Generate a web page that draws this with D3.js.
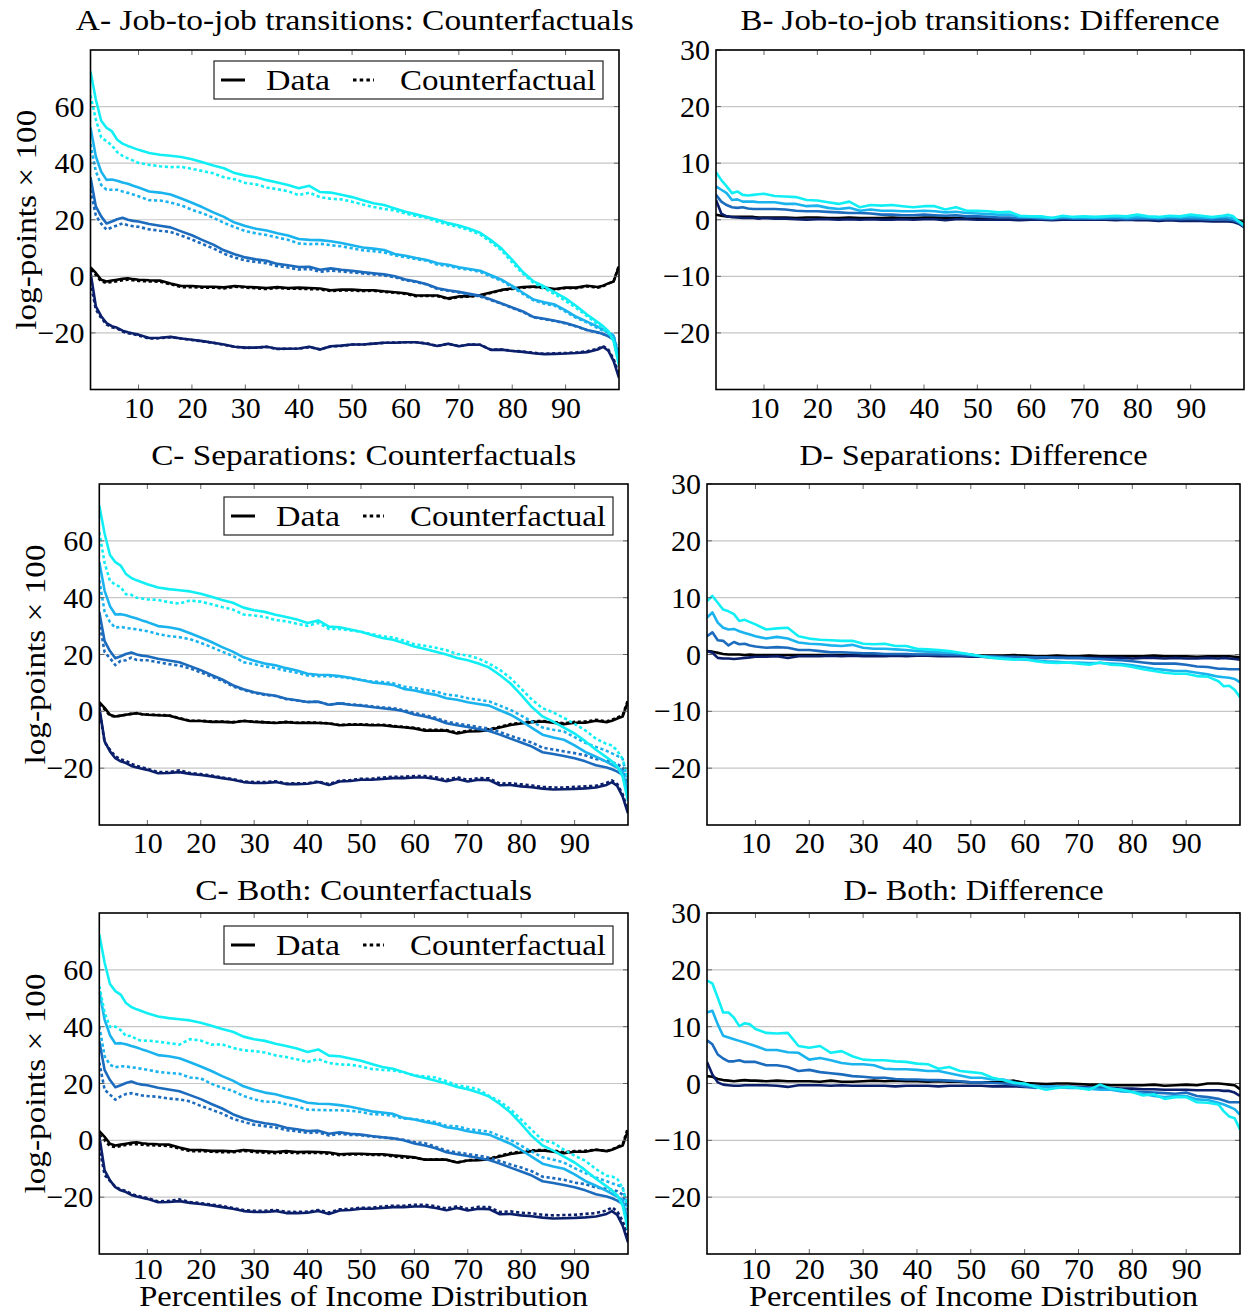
<!DOCTYPE html>
<html><head><meta charset="utf-8">
<script src="https://cdn.jsdelivr.net/npm/d3@7"></script>
<style>
body{margin:0;background:#fff}
svg{display:block}
text{font-family:"Liberation Serif","Times New Roman",serif;fill:#000}
</style>
</head><body>
<svg id="chart" width="1245" height="1312"></svg>
<script>
// ---------- data ----------
const percentiles = [1,2,3,4,5,6,7,8,9,10,12,14,16,18,20,22,24,26,28,30,32,34,36,38,40,42,44,46,48,50,52,54,56,58,60,62,64,66,68,70,72,74,76,78,80,82,84,86,88,90,92,94,96,97,98,99,100];
const xTickValues = [10,20,30,40,50,60,70,80,90];
const cfTickValues = [-20,0,20,40,60];
const diffTickValues = [-20,-10,0,10,20,30];
const seriesNames = ["black","navy","mid","light","cyan"];
const seriesColors = ["#000000","#0b1f6b","#1c6bbd","#1bb3ee","#12eff4"];
const legendLabels = ["Data","Counterfactual"];
const panelTitles = ["A- Job-to-job transitions: Counterfactuals","B- Job-to-job transitions: Difference",
  "C- Separations: Counterfactuals","D- Separations: Difference","C- Both: Counterfactuals","D- Both: Difference"];
const yAxisLabel = "log-points \u00d7 100";
const xAxisLabel = "Percentiles of Income Distribution";

// Data (solid) — same in all counterfactual panels
const dataBlack = [3.2,1.2,-1.2,-1.8,-1.5,-1.2,-0.9,-0.7,-1,-1.2,-1.4,-1.5,-2.5,-3.4,-3.4,-3.7,-3.7,-3.9,-3.4,-3.7,-3.9,-4.1,-3.8,-4.1,-4,-4.1,-4.3,-4.9,-4.7,-4.7,-4.9,-4.9,-5.3,-5.6,-6,-6.8,-6.8,-6.8,-7.8,-7.1,-7,-6.6,-5.7,-4.8,-4.3,-3.8,-3.6,-4,-4.5,-4,-4,-3.3,-3.8,-3.3,-2.5,-1.8,3.5];
const dataNavy = [1.5,-10.6,-14.1,-16.5,-17.6,-18.2,-19.2,-19.8,-20.2,-20.6,-21.8,-21.7,-21.4,-22,-22.4,-22.9,-23.5,-24.1,-24.9,-25.2,-25.2,-24.9,-25.6,-25.6,-25.5,-24.9,-25.9,-24.7,-24.5,-24.1,-24.1,-23.8,-23.5,-23.5,-23.3,-23.3,-23.8,-24.6,-23.8,-24.7,-24.1,-24.2,-26,-25.9,-26.4,-26.7,-27.2,-27.5,-27.4,-27.3,-27.1,-26.8,-25.9,-24.9,-26.3,-30,-35.9];
const dataMid = [35,24.7,21.2,18.7,19.4,20.2,20.7,20,19.6,19.4,18.5,17.9,17.3,15.9,14.5,12.8,11.2,9.2,7.8,6.7,6,5.5,4.4,3.9,3.3,3.4,2.3,2.8,2.3,2,1.5,1.1,0.7,0,-1.1,-1.8,-2.8,-4.2,-4.9,-5.5,-6.2,-6.9,-8.2,-9.6,-11,-12.4,-14.4,-15,-15.7,-16.5,-17.6,-19,-19.8,-20.4,-21.2,-22.4,-28];
const dataLight = [52.6,42.4,37,34.1,34.2,33.8,33.2,32.7,32,31.4,30,29.6,28.9,27.5,26,24.4,22.6,21,19,17.8,16.8,16.2,15.2,14.4,13.2,12.9,12.8,12.4,11.8,11,10.2,9.8,9.3,7.9,7.3,6.5,5.8,4.6,4.1,3.2,2.6,2,0.4,-1.2,-3.4,-5.8,-8.2,-9.2,-10,-12,-14.3,-16,-17.8,-18.8,-19.8,-21,-30];
const dataCyan = [72.4,62.5,55,52.5,51.3,48.3,46.9,46.1,45.4,44.7,43.6,43,42.6,42.2,41.4,40.3,39.2,38.2,36.5,35.6,35,34,33.2,32.3,31.1,32,29.8,29.6,28.8,28,26.9,25.8,25.2,24,22.8,21.9,21,20,18.8,18,16.8,15.4,12.8,9.8,5.8,1.5,-1.8,-3.6,-5.7,-7.8,-10.5,-13.5,-16.2,-17.6,-19.4,-23,-31.5];

// Job-to-job: counterfactuals (dotted)
const cfJobBlack = [2.3,0.5,-1.8,-2.3,-2,-1.7,-1.4,-1.2,-1.4,-1.6,-1.8,-1.9,-2.8,-3.8,-3.8,-4,-4,-4.3,-3.7,-4,-4.2,-4.5,-4.1,-4.4,-4.4,-4.5,-4.6,-5.2,-5,-5,-5.2,-5.1,-5.5,-5.8,-6.2,-7,-6.9,-7,-8,-7.3,-7.2,-6.8,-5.9,-4.9,-4.5,-4,-3.7,-4.2,-4.7,-4.1,-4.2,-3.5,-4,-3.5,-2.6,-1.7,3.9];
const cfJobNavy = [-2,-11.7,-14.7,-17,-18,-18.5,-19.5,-20.1,-20.4,-20.9,-22,-21.9,-21.5,-22,-22.5,-23,-23.5,-24.2,-24.9,-25.3,-25.2,-24.9,-25.7,-25.6,-25.6,-25,-25.8,-24.8,-24.6,-24.1,-24.1,-23.8,-23.5,-23.4,-23.3,-23.3,-23.7,-24.6,-23.8,-24.7,-24.1,-24.2,-25.9,-25.9,-26.3,-26.6,-27,-27.4,-27.2,-27.1,-26.9,-26.5,-25.6,-24.6,-25.9,-29.3,-34.6];
const cfJobMid = [30.6,21.5,18.6,16.5,17.3,18,18.7,18.1,17.7,17.5,16.6,16.1,15.7,14.4,13,11.4,9.9,8,6.6,5.6,5.1,4.6,3.6,3.1,2.4,2.6,1.6,2,1.7,1.4,1,0.7,0.3,-0.3,-1.4,-2,-2.9,-4.5,-5.1,-5.7,-6.4,-7.1,-8.4,-9.7,-11.2,-12.6,-14.5,-15.2,-15.8,-16.7,-17.7,-19,-19.9,-20.4,-21.1,-21.9,-26.8];
const cfJobLight = [46.7,37.1,32.3,30.6,30.6,30.6,30,29.5,28.9,28.3,26.9,26.8,26.1,25.1,23.5,22.3,20.7,18.9,17.4,16,15.2,14.6,13.7,12.9,11.6,11.4,11.5,11,10.6,9.9,9.2,8.9,8.4,7.4,6.8,6.1,5.5,4.1,3.7,2.8,2.3,1.6,-0.1,-1.5,-3.9,-6.2,-8.5,-9.7,-10.4,-12.5,-14.7,-16.3,-18.3,-19.2,-20,-20.7,-28.9];
const cfJobCyan = [64,55.5,49.1,47.8,46.3,43.9,42.6,41.7,40.9,40.1,39.4,38.9,38.6,38.7,38,37.2,36.4,35,34.3,33,32.5,31.4,30.8,30.1,28.7,29.6,28,27.4,27.2,26.4,25.4,24.5,23.8,23.3,22.2,21.3,20.7,19.3,18.3,17.4,16.3,14.8,12.1,9.2,4.9,0.9,-2.3,-4.3,-6.3,-8.7,-11.2,-14,-16.9,-18.5,-20,-22.7,-30.6];

// Job-to-job: difference
const diffJobBlack = [0.9,0.7,0.6,0.5,0.5,0.5,0.5,0.5,0.4,0.4,0.4,0.4,0.3,0.4,0.4,0.3,0.3,0.4,0.3,0.3,0.3,0.4,0.3,0.3,0.4,0.4,0.3,0.3,0.3,0.3,0.3,0.2,0.2,0.2,0.2,0.2,0.1,0.2,0.2,0.2,0.2,0.2,0.2,0.1,0.2,0.2,0.1,0.2,0.2,0.1,0.2,0.2,0.2,0.2,0.1,-0.1,-0.4];
const diffJobNavy = [3.5,1.1,0.6,0.5,0.4,0.3,0.3,0.3,0.2,0.3,0.2,0.2,0.1,0,0.1,0.1,0,0.1,0,0.1,0,0,0.1,0,0.1,0.1,-0.1,0.1,0.1,0,0,0,0,-0.1,0,0,-0.1,0,0,0,0,0,-0.1,0,-0.1,-0.1,-0.2,-0.1,-0.2,-0.2,-0.2,-0.3,-0.3,-0.3,-0.4,-0.7,-1.3];
const diffJobMid = [4.4,3.2,2.6,2.2,2.1,2.2,2,1.9,1.9,1.9,1.9,1.8,1.6,1.5,1.5,1.4,1.3,1.2,1.2,1.1,0.9,0.9,0.8,0.8,0.9,0.8,0.7,0.8,0.6,0.6,0.5,0.4,0.4,0.3,0.3,0.2,0.1,0.3,0.2,0.2,0.2,0.2,0.2,0.1,0.2,0.2,0.1,0.2,0.1,0.2,0.1,0,0.1,0,-0.1,-0.5,-1.2];
const diffJobLight = [5.9,5.3,4.7,3.5,3.6,3.2,3.2,3.2,3.1,3.1,3.1,2.8,2.8,2.4,2.5,2.1,1.9,2.1,1.6,1.8,1.6,1.6,1.5,1.5,1.6,1.5,1.3,1.4,1.2,1.1,1,0.9,0.9,0.5,0.5,0.4,0.3,0.5,0.4,0.4,0.3,0.4,0.5,0.3,0.5,0.4,0.3,0.5,0.4,0.5,0.4,0.3,0.5,0.4,0.2,-0.3,-1.1];
const diffJobCyan = [8.4,7,5.9,4.7,5,4.4,4.3,4.4,4.5,4.6,4.2,4.1,4,3.5,3.4,3.1,2.8,3.2,2.2,2.6,2.5,2.6,2.4,2.2,2.4,2.4,1.8,2.2,1.6,1.6,1.5,1.3,1.4,0.7,0.6,0.6,0.3,0.7,0.5,0.6,0.5,0.6,0.7,0.6,0.9,0.6,0.5,0.7,0.6,0.9,0.7,0.5,0.7,0.9,0.6,-0.3,-0.9];

// Separations: counterfactuals
const cfSepBlack = [2.6,0.7,-1.5,-1.9,-1.5,-1.2,-0.9,-0.6,-1,-1.1,-1.3,-1.4,-2.4,-3.3,-3.3,-3.6,-3.6,-3.8,-3.3,-3.6,-3.8,-4,-3.7,-4,-3.9,-4,-4.2,-4.8,-4.6,-4.6,-4.7,-4.7,-5.1,-5.5,-5.8,-6.5,-6.5,-6.6,-7.5,-6.8,-6.8,-6.3,-5.4,-4.5,-4,-3.5,-3.4,-3.7,-4.2,-3.7,-3.6,-3,-3.5,-3,-2.2,-1.4,4];
const cfSepNavy = [0.9,-10.9,-13.5,-15.8,-16.9,-17.4,-18.5,-19.2,-19.7,-20.2,-21.4,-21.4,-20.8,-21.7,-22.1,-22.6,-23.3,-23.8,-24.7,-24.9,-24.9,-24.6,-25.4,-25.3,-25.3,-24.7,-25.6,-24.4,-24.2,-23.7,-23.7,-23.3,-23,-23,-22.8,-22.8,-23.2,-24.1,-23.2,-24.1,-23.5,-23.6,-25.4,-25.3,-25.7,-26.1,-26.6,-26.8,-26.8,-26.6,-26.4,-26.2,-25.2,-24.3,-25.6,-29.2,-35];
const cfSepMid = [31.8,20.8,18.7,16.3,17.8,18,18.9,18.1,18,18,17.3,16.6,16.1,15.1,13.7,12.2,10.8,8.8,7.5,6.5,5.8,5.4,4.3,3.8,3.3,3.4,2.3,2.9,2.4,2.2,1.8,1.4,1.1,0.4,-0.6,-1.3,-2.3,-3.6,-4.3,-4.9,-5.5,-6.1,-7.3,-8.6,-9.8,-11,-12.8,-13.4,-14.1,-14.7,-15.5,-16.8,-17.3,-17.9,-18.6,-19.8,-25.4];
const cfSepLight = [46.1,35,31.4,29.4,29.8,29.3,29.1,28.9,28.5,28.2,27.2,26.5,26.1,25.4,24.1,22.6,21,19.5,17.3,16.6,15.8,15.2,14.3,13.6,12.6,12.4,12.4,12.1,11.6,11,10.5,10.3,9.9,8.7,8.2,7.5,7,5.9,5.5,4.6,4.1,3.5,2,0.5,-1.5,-3.6,-5.7,-6.5,-7.1,-9.1,-11.1,-12.5,-13.9,-14.8,-15.7,-16.7,-25.1];
const cfSepCyan = [63,52.2,45.9,44.6,43.7,41.2,41,40,39.7,39.4,39.2,38.4,37.9,39,38.6,37.7,36.7,35.8,34.1,33.7,33.2,32.1,31.7,30.8,30.1,31.1,29,29,28.5,28,27.2,26.4,26,24.9,23.6,23.1,22.4,21.5,20.2,19.6,18.6,16.8,14.6,11.7,8,4.1,1.1,-0.4,-2.3,-4.4,-6.7,-9.6,-11.5,-12,-13.9,-16.8,-24];

// Separations: difference
const diffSepBlack = [0.6,0.5,0.3,0.1,0,0,0,-0.1,0,-0.1,-0.1,-0.1,-0.1,-0.1,-0.1,-0.1,-0.1,-0.1,-0.1,-0.1,-0.1,-0.1,-0.1,-0.1,-0.1,-0.1,-0.1,-0.1,-0.1,-0.1,-0.2,-0.2,-0.2,-0.1,-0.2,-0.3,-0.3,-0.2,-0.3,-0.3,-0.2,-0.3,-0.3,-0.3,-0.3,-0.3,-0.2,-0.3,-0.3,-0.3,-0.4,-0.3,-0.3,-0.3,-0.3,-0.4,-0.5];
const diffSepNavy = [0.6,0.3,-0.6,-0.7,-0.7,-0.8,-0.7,-0.6,-0.5,-0.4,-0.4,-0.3,-0.6,-0.3,-0.3,-0.3,-0.2,-0.3,-0.2,-0.3,-0.3,-0.3,-0.2,-0.3,-0.2,-0.2,-0.3,-0.3,-0.3,-0.4,-0.4,-0.5,-0.5,-0.5,-0.5,-0.5,-0.6,-0.5,-0.6,-0.6,-0.6,-0.6,-0.6,-0.6,-0.7,-0.6,-0.6,-0.7,-0.6,-0.7,-0.7,-0.6,-0.7,-0.6,-0.7,-0.8,-0.9];
const diffSepMid = [3.2,3.9,2.5,2.4,1.6,2.2,1.8,1.9,1.6,1.4,1.2,1.3,1.2,0.8,0.8,0.6,0.4,0.4,0.3,0.2,0.2,0.1,0.1,0.1,0,0,0,-0.1,-0.1,-0.2,-0.3,-0.3,-0.4,-0.4,-0.5,-0.5,-0.5,-0.6,-0.6,-0.6,-0.7,-0.8,-0.9,-1,-1.2,-1.4,-1.6,-1.6,-1.6,-1.8,-2.1,-2.2,-2.5,-2.5,-2.6,-2.6,-2.6];
const diffSepLight = [6.5,7.4,5.6,4.7,4.4,4.5,4.1,3.8,3.5,3.2,2.8,3.1,2.8,2.1,1.9,1.8,1.6,1.5,1.7,1.2,1,1,0.9,0.8,0.6,0.5,0.4,0.3,0.2,0,-0.3,-0.5,-0.6,-0.8,-0.9,-1,-1.2,-1.3,-1.4,-1.4,-1.5,-1.5,-1.6,-1.7,-1.9,-2.2,-2.5,-2.7,-2.9,-2.9,-3.2,-3.5,-3.9,-4,-4.1,-4.3,-4.9];
const diffSepCyan = [9.4,10.3,9.1,7.9,7.6,7.1,5.9,6.1,5.7,5.3,4.4,4.6,4.7,3.2,2.8,2.6,2.5,2.4,2.4,1.9,1.8,1.9,1.5,1.5,1,0.9,0.8,0.6,0.3,0,-0.3,-0.6,-0.8,-0.9,-0.8,-1.2,-1.4,-1.5,-1.4,-1.6,-1.8,-1.4,-1.8,-1.9,-2.2,-2.6,-2.9,-3.2,-3.4,-3.4,-3.8,-3.9,-4.7,-5.6,-5.5,-6.2,-7.5];

// Both: counterfactuals
const cfBothBlack = [1.9,0,-2,-2.4,-2,-1.6,-1.4,-1.3,-1.5,-1.7,-1.8,-2,-2.9,-3.8,-3.8,-4,-4.2,-4.2,-3.7,-4.1,-4.4,-4.5,-4.3,-4.5,-4.4,-4.4,-4.7,-5.2,-5,-4.9,-5.1,-5.1,-5.6,-6.1,-6.1,-6.8,-6.7,-6.8,-7.8,-7,-6.8,-6.4,-5.4,-4.5,-4,-3.5,-3.4,-3.6,-4.2,-3.8,-3.7,-3.3,-3.8,-3.2,-2.3,-1.5,4.5];
const cfBothNavy = [-2.3,-12.2,-14.3,-16.3,-17.3,-17.8,-18.8,-19.5,-19.9,-20.3,-21.5,-21.3,-20.8,-21.7,-22.1,-22.6,-23.1,-23.8,-24.5,-24.8,-24.8,-24.5,-25.1,-25.2,-25.1,-24.5,-25.4,-24.3,-24.1,-23.7,-23.7,-23.3,-23,-23,-22.7,-22.7,-23.2,-24,-23.2,-24.1,-23.4,-23.5,-25.2,-25,-25.5,-25.7,-26.2,-26.4,-26.3,-26.2,-25.9,-25.6,-24.7,-23.6,-25,-28.4,-33.7];
const cfBothMid = [27.4,17.8,16.1,14.3,15.5,16.3,16.6,16.2,15.8,15.6,15.3,14.7,14.4,13.7,12.1,10.8,9.4,7.6,6.5,5.5,5,4.5,3.6,3.2,2.6,2.8,1.7,2.3,1.9,1.8,1.3,1,0.7,0.2,-0.6,-1,-2.3,-3.6,-4.3,-4.8,-5.4,-6.1,-7.3,-8.5,-9.6,-10.9,-12.8,-13.3,-13.9,-14.9,-15.4,-16.6,-17.1,-17.4,-17.9,-19.1,-24.7];
const cfBothLight = [40.1,29.6,26.6,25.7,26.1,26,25.7,25.5,25.1,24.8,24.1,23.7,23.4,22.1,21.8,19.9,18.5,17.4,15.6,14.4,13.6,13.6,12.7,11.9,10.8,10.7,10.6,10.6,10.4,10,9.2,9.1,8.6,7.7,7.5,6.9,6.4,5.1,4.9,4,3.5,3.1,1.5,0.2,-1.9,-4,-6,-6.8,-7.8,-9.8,-11.5,-13.1,-14.4,-15.1,-15.7,-16.5,-24.5];
const cfBothCyan = [54.3,44.9,39.9,40,38.8,36.7,36.8,35.5,35,35.1,34.7,34.2,33.7,35.6,35.1,33.7,33.8,32.5,31.7,31.4,30.9,29.9,29.3,28.5,27.6,28.6,27.2,26.7,26.6,26,25.1,24.8,24.6,23.9,22.8,22.5,22.1,20.8,19.4,18.8,17.9,15.6,13.7,10.9,7.3,3.6,0.1,-0.9,-3.3,-5.4,-7.2,-10.1,-12.5,-12.7,-13.6,-16.9,-23.4];

// Both: difference
const diffBothBlack = [1.3,1.2,0.8,0.6,0.5,0.4,0.5,0.6,0.5,0.5,0.4,0.5,0.4,0.4,0.4,0.3,0.5,0.3,0.3,0.4,0.5,0.4,0.5,0.4,0.4,0.3,0.4,0.3,0.3,0.2,0.2,0.2,0.3,0.5,0.1,0,-0.1,0,0,-0.1,-0.2,-0.2,-0.3,-0.3,-0.3,-0.3,-0.2,-0.4,-0.3,-0.2,-0.3,0,0,-0.1,-0.2,-0.3,-1];
const diffBothNavy = [3.8,1.6,0.2,-0.2,-0.3,-0.4,-0.4,-0.3,-0.3,-0.3,-0.3,-0.4,-0.6,-0.3,-0.3,-0.3,-0.4,-0.3,-0.4,-0.4,-0.4,-0.4,-0.5,-0.4,-0.4,-0.4,-0.5,-0.4,-0.4,-0.4,-0.4,-0.5,-0.5,-0.5,-0.6,-0.6,-0.6,-0.6,-0.6,-0.6,-0.7,-0.7,-0.8,-0.9,-0.9,-1,-1,-1.1,-1.1,-1.1,-1.2,-1.2,-1.2,-1.3,-1.3,-1.6,-2.2];
const diffBothMid = [7.6,6.9,5.1,4.4,3.9,3.9,4.1,3.8,3.8,3.8,3.2,3.2,2.9,2.2,2.4,2,1.8,1.6,1.3,1.2,1,1,0.8,0.7,0.7,0.6,0.6,0.5,0.4,0.2,0.2,0.1,0,-0.2,-0.5,-0.8,-0.5,-0.6,-0.6,-0.7,-0.8,-0.8,-0.9,-1.1,-1.4,-1.5,-1.6,-1.7,-1.8,-1.6,-2.2,-2.4,-2.7,-3,-3.3,-3.3,-3.3];
const diffBothLight = [12.5,12.8,10.4,8.4,8.1,7.8,7.5,7.2,6.9,6.6,5.9,5.9,5.5,5.4,4.2,4.5,4.1,3.6,3.4,3.4,3.2,2.6,2.5,2.5,2.4,2.2,2.2,1.8,1.4,1,1,0.7,0.7,0.2,-0.2,-0.4,-0.6,-0.5,-0.8,-0.8,-0.9,-1.1,-1.1,-1.4,-1.5,-1.8,-2.2,-2.4,-2.2,-2.2,-2.8,-2.9,-3.4,-3.7,-4.1,-4.5,-5.5];
const diffBothCyan = [18.1,17.6,15.1,12.5,12.5,11.6,10.1,10.6,10.4,9.6,8.9,8.8,8.9,6.6,6.3,6.6,5.4,5.7,4.8,4.2,4.1,4.1,3.9,3.8,3.5,3.4,2.6,2.9,2.2,2,1.8,1,0.6,0.1,0,-0.6,-1.1,-0.8,-0.6,-0.8,-1.1,-0.2,-0.9,-1.1,-1.5,-2.1,-1.9,-2.7,-2.4,-2.4,-3.3,-3.4,-3.7,-4.9,-5.8,-6.1,-8.1];

// ---------- drawing ----------
const dataSeries = [dataBlack,dataNavy,dataMid,dataLight,dataCyan];
const panels = [
  {box:[90.5,619,50,389.5], ydom:[-40,80], yticks:cfTickValues, title:panelTitles[0], tw:558, tb:30,
   solid:dataSeries, dotted:[cfJobBlack,cfJobNavy,cfJobMid,cfJobLight,cfJobCyan], legend:[214,61], ylab:36},
  {box:[716,1244,50,389.5], ydom:[-30,30], yticks:diffTickValues, title:panelTitles[1], tw:479, tb:30,
   solid:[diffJobBlack,diffJobNavy,diffJobMid,diffJobLight,diffJobCyan]},
  {box:[99.3,628,484,825], ydom:[-40,80], yticks:cfTickValues, title:panelTitles[2], tw:425, tb:465,
   solid:dataSeries, dotted:[cfSepBlack,cfSepNavy,cfSepMid,cfSepLight,cfSepCyan], legend:[224,497], ylab:45},
  {box:[707,1240,484,825], ydom:[-30,30], yticks:diffTickValues, title:panelTitles[3], tw:348, tb:465,
   solid:[diffSepBlack,diffSepNavy,diffSepMid,diffSepLight,diffSepCyan]},
  {box:[99.3,628,913,1254], ydom:[-40,80], yticks:cfTickValues, title:panelTitles[4], tw:337, tb:900,
   solid:dataSeries, dotted:[cfBothBlack,cfBothNavy,cfBothMid,cfBothLight,cfBothCyan], legend:[224,926], ylab:45, xlab:true},
  {box:[707,1240,913,1254], ydom:[-30,30], yticks:diffTickValues, title:panelTitles[5], tw:260, tb:900,
   solid:[diffBothBlack,diffBothNavy,diffBothMid,diffBothLight,diffBothCyan], xlab:true}
];

const svg = d3.select("#chart");
const FS = 30;
const LW = 2.6;
const DASH = "3.2,2.6";

panels.forEach((p, pi) => {
  const [x0,x1,y0,y1] = p.box;
  const x = d3.scaleLinear().domain([1,100]).range([x0,x1]);
  const y = d3.scaleLinear().domain(p.ydom).range([y1,y0]);
  const g = svg.append("g");

  // grid
  g.append("g").selectAll("line").data(p.yticks).join("line")
    .attr("x1",x0).attr("x2",x1).attr("y1",d=>y(d)).attr("y2",d=>y(d))
    .attr("stroke","#c6c6c6").attr("stroke-width",1.2);

  // clip
  const cid = "clip"+pi;
  svg.append("clipPath").attr("id",cid).append("rect")
    .attr("x",x0).attr("y",y0).attr("width",x1-x0).attr("height",y1-y0);

  const line = d3.line().x((d,i)=>x(percentiles[i])).y(d=>y(d));
  const lg = g.append("g").attr("clip-path",`url(#${cid})`);
  seriesNames.forEach((name, si) => {
    lg.append("path").datum(p.solid[si]).attr("d",line)
      .attr("fill","none").attr("stroke",seriesColors[si]).attr("stroke-width",LW)
      .attr("stroke-linejoin","round");
    if (p.dotted) {
      lg.append("path").datum(p.dotted[si]).attr("d",line)
        .attr("fill","none").attr("stroke",seriesColors[si]).attr("stroke-width",LW)
        .attr("stroke-dasharray",DASH);
    }
  });

  // inner tick marks
  const tk = g.append("g").attr("stroke","#666").attr("stroke-width",1);
  xTickValues.forEach(v => {
    tk.append("line").attr("x1",x(v)).attr("x2",x(v)).attr("y1",y1).attr("y2",y1-5);
    tk.append("line").attr("x1",x(v)).attr("x2",x(v)).attr("y1",y0).attr("y2",y0+5);
  });
  p.yticks.forEach(v => {
    tk.append("line").attr("x1",x0).attr("x2",x0+5).attr("y1",y(v)).attr("y2",y(v));
    tk.append("line").attr("x1",x1).attr("x2",x1-5).attr("y1",y(v)).attr("y2",y(v));
  });

  // frame
  g.append("rect").attr("x",x0).attr("y",y0).attr("width",x1-x0).attr("height",y1-y0)
    .attr("fill","none").attr("stroke","#000").attr("stroke-width",1.6);

  // axes labels via d3 axes
  const ax = g.append("g").attr("transform",`translate(0,${y1})`)
    .call(d3.axisBottom(x).tickValues(xTickValues).tickSize(0).tickPadding(p.xlab ? 4 : 7).tickFormat(d3.format("d")));
  ax.select(".domain").remove();
  ax.attr("font-family",null).attr("font-size",FS);
  ax.selectAll("text").style("font-family",'"Liberation Serif",serif').attr("font-size",FS);

  const ay = g.append("g").attr("transform",`translate(${x0},0)`)
    .call(d3.axisLeft(y).tickValues(p.yticks).tickSize(0).tickPadding(6).tickFormat(d3.format("d")));
  ay.select(".domain").remove();
  ay.attr("font-family",null).attr("font-size",FS);
  ay.selectAll("text").style("font-family",'"Liberation Serif",serif').attr("font-size",FS);

  // title
  g.append("text").attr("x",(x0+x1)/2).attr("y",p.tb).attr("text-anchor","middle")
    .attr("font-size",FS).attr("textLength",p.tw).attr("lengthAdjust","spacingAndGlyphs").text(p.title);

  // y label
  if (p.ylab) {
    g.append("text").attr("transform",`translate(${p.ylab},${(y0+y1)/2}) rotate(-90)`)
      .attr("text-anchor","middle").attr("font-size",FS)
      .attr("textLength",220).attr("lengthAdjust","spacingAndGlyphs").text(yAxisLabel);
  }
  // x label
  if (p.xlab) {
    g.append("text").attr("x",(x0+x1)/2).attr("y",1306).attr("text-anchor","middle")
      .attr("font-size",29).attr("textLength",449).attr("lengthAdjust","spacingAndGlyphs").text(xAxisLabel);
  }

  // legend
  if (p.legend) {
    const [lx,ly] = p.legend;
    const L = g.append("g").attr("transform",`translate(${lx},${ly})`);
    L.append("rect").attr("width",389).attr("height",38).attr("fill","#fff")
      .attr("stroke","#222").attr("stroke-width",1.2);
    L.append("line").attr("x1",7).attr("x2",31).attr("y1",19).attr("y2",19)
      .attr("stroke","#000").attr("stroke-width",3);
    L.append("text").attr("x",52).attr("y",29).attr("font-size",FS)
      .attr("textLength",64).attr("lengthAdjust","spacingAndGlyphs").text(legendLabels[0]);
    L.append("line").attr("x1",139).attr("x2",160).attr("y1",19).attr("y2",19)
      .attr("stroke","#000").attr("stroke-width",3).attr("stroke-dasharray","3.5,3.2");
    L.append("text").attr("x",186).attr("y",29).attr("font-size",FS)
      .attr("textLength",196).attr("lengthAdjust","spacingAndGlyphs").text(legendLabels[1]);
  }
});
</script>
</body></html>
